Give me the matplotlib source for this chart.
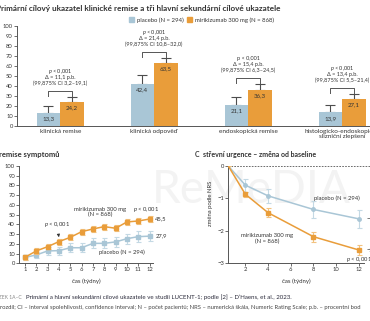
# region imports
import matplotlib
matplotlib.use("Agg")
import matplotlib.pyplot as plt
from matplotlib.patches import Patch
import numpy as np
# end region

plt.rcParams['font.family'] = ['Lato', 'DejaVu Sans']
plt.rcParams['mathtext.fontset'] = 'custom'
plt.rcParams['mathtext.it'] = 'Lato:italic'
plt.rcParams['mathtext.rm'] = 'Lato'

# region data
# A - primary / secondary endpoints (%)
cats_a = ['klinická remise', 'klinická odpověď', 'endoskopická remise',
          'histologicko-endoskopické\nslizniční zlepšení']
placebo_a = [13.3, 42.4, 21.1, 13.9]
miri_a = [24.2, 63.5, 36.3, 27.1]
placebo_a_err = [6.7, 8.6, 7.9, 7.6]
miri_a_err = [4.8, 4.5, 5.7, 4.6]
p_a = ['$p$ < 0,001', '$p$ < 0,001', 'p < 0,001', '$p$ < 0,001']
delta_a = ['Δ = 11,1 p.b.', 'Δ = 21,4 p.b.', 'Δ = 15,4 p.b.', 'Δ = 13,4 p.b.']
ci_a = ['(99,875% CI 3,2–19,1)', '(99,875% CI 10,8–32,0)',
        '(99,875% CI 6,3–24,5)', '(99,875% CI 5,5–21,4)']

# B - symptom remission (%)
weeks_b = list(range(1, 13))
miri_b = [6.2, 12.7, 17.1, 22.3, 26.7, 32.5, 35.3, 37.7, 36.0, 42.5, 43.5, 45.5]
placebo_b = [6.0, 8.6, 12.7, 13.0, 16.0, 16.0, 20.5, 20.5, 22.0, 25.3, 27.4, 27.9]
miri_b_err = [2.5, 2.8, 2.8, 3.0, 3.0, 3.2, 3.2, 3.2, 3.2, 3.4, 3.4, 3.4]
placebo_b_err = [3.0, 3.5, 4.0, 4.2, 4.5, 4.5, 5.0, 5.0, 5.0, 5.2, 5.3, 5.3]

# C - bowel urgency, change from baseline (NRS)
weeks_c = [0.5, 2, 4, 8, 12]
placebo_c = [0.0, -0.59, -0.92, -1.34, -1.63]
miri_c = [0.0, -0.87, -1.44, -2.18, -2.59]
placebo_c_err = [0.0, 0.20, 0.22, 0.26, 0.27]
miri_c_err = [0.0, 0.08, 0.14, 0.15, 0.16]
# endregion

BLUE = '#a9c6d6'
ORANGE = '#e99d3a'
BLUE_ERR = '#c4d9e4'
ORANGE_ERR = '#f2c27f'
TXT = '#333333'
W, H = 370, 321


def fx(x):
    return x / W


def fy(y):
    return 1 - y / H


def style_axes(ax):
    for s in ['top', 'right']:
        ax.spines[s].set_visible(False)
    for s in ['left', 'bottom']:
        ax.spines[s].set_color('#555555')
        ax.spines[s].set_linewidth(0.7)
    ax.tick_params(labelsize=4.2, colors='#555555', length=2, width=0.6, pad=1,
                   labelcolor=TXT)


def main():
    fig = plt.figure(figsize=(W / 100, H / 100), dpi=100)

    # watermark (behind everything)
    fig.text(fx(251), fy(190), 'ReMeDIA', fontsize=33, color='#f3f3f3',
             ha='center', va='center', zorder=-5)

    # ---------- A ----------
    fig.text(fx(-4), fy(8), 'Primární cílový ukazatel klinické remise a tři hlavní sekundární cílové ukazatele',
             fontsize=5.9, fontweight='bold', color=TXT, va='center')
    ax = fig.add_axes([fx(17), fy(126), 372 / W, 100 / H])
    ax.patch.set_alpha(0)
    style_axes(ax)
    x = np.arange(len(cats_a))
    bw = 0.25
    ax.bar(x - bw / 2, placebo_a, bw, color=BLUE, zorder=2)
    ax.bar(x + bw / 2, miri_a, bw, color=ORANGE, zorder=2)
    ekw = dict(fmt='none', ecolor='#4d4d4d', elinewidth=0.8, capsize=3.6,
               capthick=0.8, zorder=1)
    ax.errorbar(x - bw / 2, placebo_a, yerr=[np.zeros(4), placebo_a_err], **ekw)
    ax.errorbar(x + bw / 2, miri_a, yerr=[np.zeros(4), miri_a_err], **ekw)
    for i in range(len(cats_a)):
        ax.annotate(f'{placebo_a[i]:.1f}'.replace('.', ','), (x[i] - bw / 2, placebo_a[i]),
                    xytext=(0, -4.5), textcoords='offset points', ha='center',
                    va='center', fontsize=4.4, color=TXT, zorder=3)
        ax.annotate(f'{miri_a[i]:.1f}'.replace('.', ','), (x[i] + bw / 2, miri_a[i]),
                    xytext=(0, -4.5), textcoords='offset points', ha='center',
                    va='center', fontsize=4.4, color=TXT, zorder=3)
        top = max(placebo_a[i] + placebo_a_err[i], miri_a[i] + miri_a_err[i]) + 6
        ax.plot([x[i] - bw / 2, x[i] - bw / 2, x[i] + bw / 2, x[i] + bw / 2],
                [top - 4.5, top, top, top - 4.5], color='#555555', lw=0.7)
        ax.text(x[i], top + 7.5, ci_a[i], ha='center', va='center', fontsize=4, color=TXT)
        ax.text(x[i], top + 13.5, delta_a[i], ha='center', va='center', fontsize=4, color=TXT)
        ax.text(x[i], top + 19.5, p_a[i], ha='center', va='center', fontsize=4, color=TXT)
    ax.set_xlim(-0.46, 3.5)
    ax.set_ylim(0, 100)
    ax.set_yticks(range(0, 101, 10))
    ax.set_xticks(x)
    ax.set_xticklabels(cats_a, linespacing=0.95, fontsize=4.6)
    ax.tick_params(axis='x', length=0, pad=2)
    handles = [Patch(color=BLUE, label='placebo (N = 294)'),
               Patch(color=ORANGE, label='mirikizumab 300 mg (N = 868)')]
    fig.legend(handles=handles, ncol=2, loc='center left',
               bbox_to_anchor=(fx(126), fy(20)), frameon=False, fontsize=4.3,
               handlelength=0.9, handleheight=0.9, handletextpad=0.4,
               columnspacing=0.6, borderpad=0, labelcolor=TXT)

    # ---------- B ----------
    fig.text(fx(-1), fy(155), 'remise symptomů', fontsize=5.5, fontweight='bold',
             color=TXT, va='center')
    bx = fig.add_axes([fx(19.3), fy(263.3), (153 - 19.3) / W, 97.3 / H])
    bx.patch.set_alpha(0)
    style_axes(bx)
    bx.errorbar(weeks_b, placebo_b, yerr=placebo_b_err, color=BLUE, ecolor=BLUE_ERR,
                lw=1.1, elinewidth=0.8, capsize=1.8, capthick=0.8,
                marker='s', ms=3, zorder=2)
    bx.errorbar(weeks_b, miri_b, yerr=miri_b_err, color=ORANGE, ecolor=ORANGE_ERR,
                lw=1.1, elinewidth=0.8, capsize=1.8, capthick=0.8,
                marker='s', ms=3, zorder=3)
    bx.set_xlim(0.5, 12.3)
    bx.set_ylim(0, 100)
    bx.set_yticks(range(0, 101, 10))
    bx.set_xticks(weeks_b)
    bx.set_xlabel('čas (týdny)', fontsize=4.4, color=TXT, labelpad=4)
    bx.text(7.6, 52.5, 'mirikizumab 300 mg\n(N = 868)', ha='center', va='center',
            fontsize=4.2, color=TXT, linespacing=1.0)
    bx.text(11.7, 55, '$p$ < 0,001', ha='center', va='center', fontsize=4.2, color=TXT)
    bx.annotate('$p$ < 0,001', xy=(4, miri_b[3] + 4.5), xytext=(3.8, 39.5),
                ha='center', va='center', fontsize=4.2, color=TXT,
                arrowprops=dict(arrowstyle='-|>', color='#333333', lw=0.6,
                                mutation_scale=4, shrinkA=2, shrinkB=0))
    bx.text(12.5, miri_b[-1], '45,5', ha='left', va='center', fontsize=4.2, color=TXT,
            clip_on=False)
    bx.text(12.5, placebo_b[-1], '27,9', ha='left', va='center', fontsize=4.2, color=TXT,
            clip_on=False)
    bx.text(9.55, 10.9, 'placebo (N = 294)', ha='center', va='center', fontsize=4.2,
            color=TXT)

    # ---------- C ----------
    fig.text(fx(195), fy(154.5), 'C  střevní urgence – změna od baseline', fontsize=5,
             fontweight='bold', color=TXT, va='center')
    cx = fig.add_axes([fx(228.3), fy(263.3), (364 - 228.3) / W, 97.3 / H])
    cx.patch.set_alpha(0)
    style_axes(cx)
    cx.plot([weeks_c[0], 13.2], [0, 0], ls=(0, (2, 1.5)), color='#555555', lw=0.6,
            clip_on=False, zorder=1)
    cx.errorbar(weeks_c, placebo_c, yerr=placebo_c_err, color=BLUE, ecolor=BLUE_ERR,
                lw=1.1, elinewidth=0.8, capsize=1.8, capthick=0.8,
                marker='o', ms=2.5, markevery=[1, 2, 3, 4], zorder=2)
    cx.errorbar(weeks_c, miri_c, yerr=miri_c_err, color=ORANGE, ecolor=ORANGE_ERR,
                lw=1.1, elinewidth=0.8, capsize=1.8, capthick=0.8,
                marker='s', ms=3, markevery=[1, 2, 3, 4], zorder=3)
    cx.set_xlim(weeks_c[0], 12.45)
    cx.set_ylim(-3, 0)
    cx.set_yticks([0, -1, -2, -3])
    cx.set_yticklabels(['0', '−1', '−2', '−3'])
    cx.set_xticks([2, 4, 6, 8, 10, 12])
    cx.set_xlabel('čas (týdny)', fontsize=4.4, color=TXT, labelpad=4)
    cx.set_ylabel('změna podle NRS', fontsize=4.2, color=TXT)
    cx.yaxis.set_label_coords(-0.11, 0.62)
    cx.text(10.1, -0.98, 'placebo (N = 294)', ha='center', va='center', fontsize=4.2,
            color=TXT)
    cx.text(3.95, -2.24, 'mirikizumab 300 mg\n(N = 868)', ha='center', va='center',
            fontsize=4.2, color=TXT, linespacing=1.0)
    cx.text(10.85, -2.87, '$p$ < 0,001', ha='left', va='center', fontsize=4.2, color=TXT,
            clip_on=False)
    cx.text(12.7, placebo_c[-1], '−1,6', ha='left', va='center', fontsize=4.2, color=TXT,
            clip_on=False)
    cx.text(12.7, miri_c[-1], '−2,6', ha='left', va='center', fontsize=4.2, color=TXT,
            clip_on=False)

    # ---------- caption ----------
    fig.text(fx(22), fy(297), 'OBRÁZEK 1A–C', fontsize=3.6, color='#888888',
             ha='right', va='center')
    fig.text(fx(26), fy(297),
             'Primární a hlavní sekundární cílové ukazatele ve studii LUCENT-1; podle [2] – D\u2019Haens, et al., 2023.',
             fontsize=4.4, color='#2a2a3a', va='center')
    fig.text(fx(0), fy(308),
             'rozdíl; CI – interval spolehlivosti, confidence interval; N – počet pacientů; NRS – numerická škála, Numeric Rating Scale; p.b. – procentní bod',
             fontsize=4.2, color='#444444', va='center')

    fig.savefig('out.png', dpi=100)


# region function calls
if __name__ == "__main__":
    main()
# endregion
